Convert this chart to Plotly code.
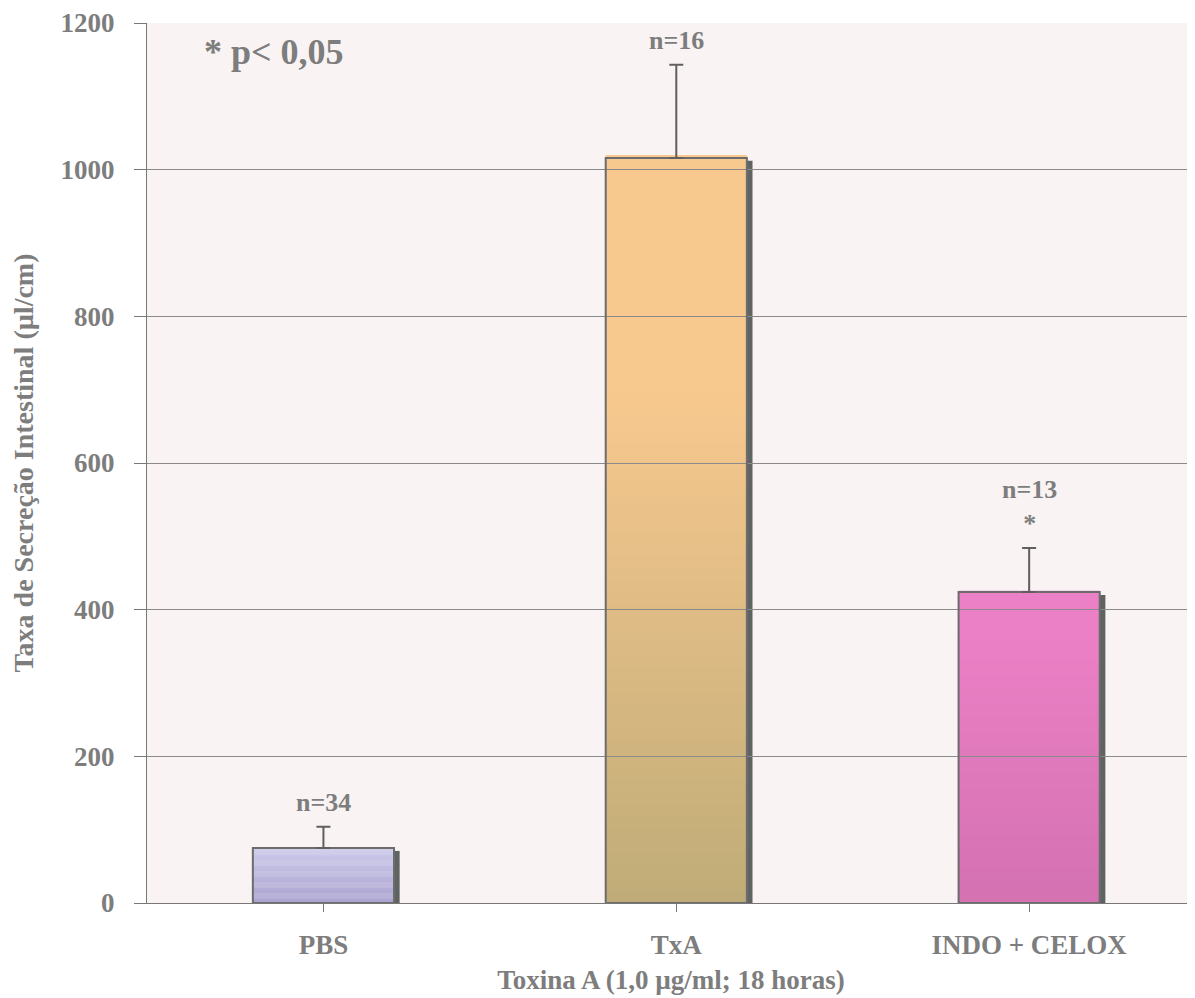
import plotly.graph_objects as go

categories = ["PBS", "TxA", "INDO + CELOX"]
means = [75, 1016, 424]
sem = [29, 127, 60]
n_labels = ["n=34", "n=16", "n=13<br>*"]
y_ticks = [0, 200, 400, 600, 800, 1000, 1200]

top_colors = [(204, 202, 236), (247, 201, 143), (236, 128, 198)]
bottom_colors = [(172, 164, 208), (192, 172, 120), (212, 114, 178)]
flat_fraction = [0.0, 0.32, 0.15]

GRAY = "#7d7d7d"
FONT = "Liberation Serif"
BAR_W = 0.4

fig = go.Figure()

shapes = []
N = 60
for i, (v, tc, bc, ff) in enumerate(zip(means, top_colors, bottom_colors, flat_fraction)):
    for k in range(N):
        y0 = v * k / N
        y1 = v * (k + 1) / N
        t = (k + 0.5) / N  # 0 bottom -> 1 top
        g = min(1.0, t / (1 - ff))
        c = tuple(int(bc[j] + (tc[j] - bc[j]) * g) for j in range(3))
        shapes.append(dict(type="rect", xref="x", yref="y", layer="below",
                           x0=i - BAR_W / 2, x1=i + BAR_W / 2, y0=y0, y1=y1 + v * 0.004,
                           fillcolor="rgb(%d,%d,%d)" % c, line=dict(width=0)))
    # shadow strip on the right
    shapes.append(dict(type="rect", xref="x", yref="y", layer="below",
                       x0=i + BAR_W / 2, x1=i + BAR_W / 2 + 0.016, y0=0, y1=v - 4,
                       fillcolor="#5f6462", line=dict(width=0)))

fig.add_trace(go.Bar(
    x=list(range(len(categories))), y=means, width=BAR_W,
    marker=dict(color="rgba(0,0,0,0)", line=dict(color="#6c6c6c", width=2)),
    error_y=dict(type="data", array=sem, arrayminus=[0] * len(sem), symmetric=False,
                 color="#5f5f5f", thickness=2, width=7),
    showlegend=False, hoverinfo="skip",
))

annotations = []
for i, (v, e, lab) in enumerate(zip(means, sem, n_labels)):
    annotations.append(dict(x=i, y=v + e, xref="x", yref="y", text="<b>%s</b>" % lab,
                            showarrow=False, yanchor="bottom", yshift=8,
                            font=dict(family=FONT, size=26, color=GRAY)))
annotations.append(dict(x=-0.343, y=1160, xref="x", yref="y", text="<b>* p< 0,05</b>",
                        showarrow=False, xanchor="left", yanchor="middle",
                        font=dict(family=FONT, size=36, color=GRAY)))

fig.update_layout(
    width=1195, height=998,
    margin=dict(l=139, r=8, t=15, b=103),
    paper_bgcolor="white",
    plot_bgcolor="#f9f3f3",
    shapes=shapes,
    annotations=annotations,
)
fig.update_xaxes(
    range=[-0.5, 2.47], automargin=False,
    tickmode="array", tickvals=list(range(len(categories))),
    ticktext=["<b>%s</b>" % c for c in categories],
    tickson="boundaries", ticks="outside", ticklen=8, tickcolor="#777",
    showline=True, linecolor="#777", linewidth=1,
    showgrid=False, zeroline=False,
    ticklabelstandoff=10,
    tickfont=dict(family=FONT, size=27, color=GRAY),
    title=dict(text="<b>Toxina A (1,0 µg/ml; 18 horas)</b>", standoff=10,
               font=dict(family=FONT, size=27, color=GRAY)),
)
fig.update_yaxes(
    range=[0, 1200], tickvals=y_ticks, automargin=False,
    ticktext=["<b>%d</b>" % t for t in y_ticks],
    ticks="outside", ticklen=12, tickcolor="#777",
    showline=True, linecolor="#777", linewidth=1,
    showgrid=True, gridcolor="#8a8a8a", gridwidth=1, zeroline=False,
    ticklabelstandoff=14,
    tickfont=dict(family=FONT, size=27, color=GRAY),
    title=dict(text="<b>Taxa de Secreção Intestinal (µl/cm)</b>", standoff=18,
               font=dict(family=FONT, size=28, color=GRAY)),
)

fig.write_html("out.html")
